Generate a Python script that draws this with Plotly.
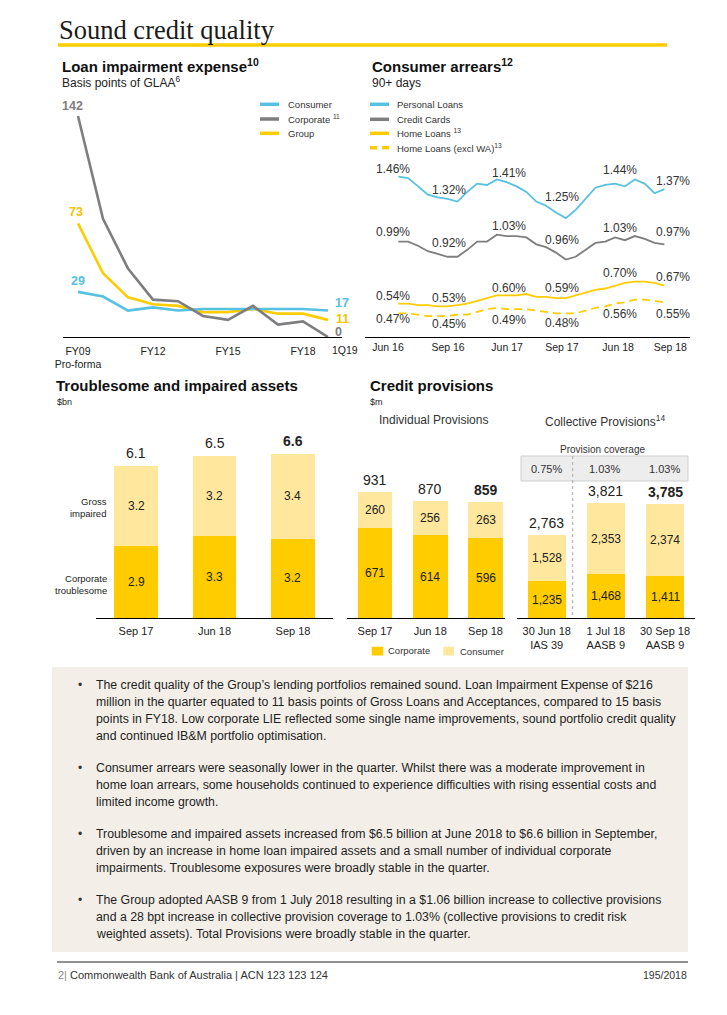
import plotly.graph_objects as go

W, H = 727, 1015
FONT = "Liberation Sans, Arial, sans-serif"
SERIF = "Liberation Serif, DejaVu Serif, serif"
YEL = "#FFCC00"
YEL_L = "#FFE89E"
CYAN = "#57C1E1"
GREY = "#7E7E80"
TXT = "#222222"

# ---------------- data ----------------
lie_periods = ["FY09", "FY10", "FY11", "FY12", "FY13", "FY14", "FY15", "FY16", "FY17", "FY18", "1Q19"]
lie_consumer = [29, 26, 17, 19, 17, 18, 18, 18, 18, 18, 17]
lie_corporate = [142, 76, 44, 24, 23, 13.5, 11, 20, 8, 10, 0]
lie_group = [73, 41, 25.5, 21, 20, 16, 16, 18, 15, 15, 11]
lie_tick_labels = ["FY09<br>Pro-forma", "FY12", "FY15", "FY18"]
lie_last_label = "1Q19"

arr_personal = [1.46, 1.45, 1.39, 1.33, 1.31, 1.30, 1.28, 1.35, 1.41, 1.40, 1.44, 1.42, 1.39, 1.35,
                1.28, 1.25, 1.20, 1.16, 1.22, 1.30, 1.38, 1.40, 1.41, 1.39, 1.44, 1.41, 1.34, 1.37]
arr_cards = [0.99, 0.99, 0.96, 0.92, 0.90, 0.88, 0.88, 0.93, 0.99, 0.99, 1.04, 1.03, 1.03, 1.02,
             0.97, 0.95, 0.91, 0.86, 0.88, 0.93, 0.98, 0.99, 1.02, 1.00, 1.03, 1.01, 0.98, 0.97]
arr_home = [0.54, 0.54, 0.53, 0.53, 0.52, 0.52, 0.53, 0.54, 0.56, 0.58, 0.60, 0.60, 0.60, 0.61,
            0.59, 0.59, 0.58, 0.58, 0.60, 0.62, 0.64, 0.65, 0.67, 0.69, 0.70, 0.70, 0.69, 0.67]
arr_home_xwa = [0.47, 0.47, 0.46, 0.45, 0.45, 0.45, 0.46, 0.46, 0.48, 0.50, 0.51, 0.50, 0.50, 0.50,
                0.49, 0.48, 0.47, 0.47, 0.47, 0.49, 0.51, 0.52, 0.54, 0.55, 0.57, 0.57, 0.56, 0.55]
arr_tick_labels = ["Jun 16", "Sep 16", "Jun 17", "Sep 17", "Jun 18", "Sep 18"]
arr_lbl_personal = ["1.46%", "1.32%", "1.41%", "1.25%", "1.44%", "1.37%"]
arr_lbl_cards = ["0.99%", "0.92%", "1.03%", "0.96%", "1.03%", "0.97%"]
arr_lbl_home = ["0.54%", "0.53%", "0.60%", "0.59%", "0.70%", "0.67%"]
arr_lbl_home_xwa = ["0.47%", "0.45%", "0.49%", "0.48%", "0.56%", "0.55%"]

tia_periods = ["Sep 17", "Jun 18", "Sep 18"]
tia_corp_troublesome = [2.9, 3.3, 3.2]
tia_gross_impaired = [3.2, 3.2, 3.4]

ind_periods = ["Sep 17", "Jun 18", "Sep 18"]
ind_corporate = [671, 614, 596]
ind_consumer = [260, 256, 263]

col_periods = ["30 Jun 18<br>IAS 39", "1 Jul 18<br>AASB 9", "30 Sep 18<br>AASB 9"]
col_corporate = [1235, 1468, 1411]
col_consumer = [1528, 2353, 2374]
col_coverage = ["0.75%", "1.03%", "1.03%"]

bullets = [
    ["The credit quality of the Group\u2019s lending portfolios remained sound. Loan Impairment Expense of $216",
     "million in the quarter equated to 11 basis points of Gross Loans and Acceptances, compared to 15 basis",
     "points in FY18. Low corporate LIE reflected some single name improvements, sound portfolio credit quality",
     "and continued IB&amp;M portfolio optimisation."],
    ["Consumer arrears were seasonally lower in the quarter. Whilst there was a moderate improvement in",
     "home loan arrears, some households continued to experience difficulties with rising essential costs and",
     "limited income growth."],
    ["Troublesome and impaired assets increased from $6.5 billion at June 2018 to $6.6 billion in September,",
     "driven by an increase in home loan impaired assets and a small number of individual corporate",
     "impairments. Troublesome exposures were broadly stable in the quarter."],
    ["The Group adopted AASB 9 from 1 July 2018 resulting in a $1.06 billion increase to collective provisions",
     "and a 28 bpt increase in collective provision coverage to 1.03% (collective provisions to credit risk",
     "weighted assets). Total Provisions were broadly stable in the quarter."],
]

# ---------------- helpers ----------------
def px(x):
    # horizontal page position -> paper fraction (compensates the 8px left inset seen in the capture)
    return (x - 8) / 719


def py(y):
    return 1 - y / H


anns = []
shapes = []


def ann(x, y, text, size, color=TXT, xanchor="center", yanchor="middle", family=FONT, align="center"):
    anns.append(dict(x=px(x), y=py(y), xref="paper", yref="paper", text=text, showarrow=False,
                     xanchor=xanchor, yanchor=yanchor, align=align,
                     font=dict(size=size, color=color, family=family)))


def dann(x, y, xr, yr, text, size, color=TXT, yanchor="middle", yshift=0, bold=False):
    if bold:
        text = "<b>" + text + "</b>"
    anns.append(dict(x=x, y=y, xref=xr, yref=yr, text=text, showarrow=False,
                     xanchor="center", yanchor=yanchor, yshift=yshift,
                     font=dict(size=size, color=color, family=FONT)))


def hline(x0, x1, y, color, width, dash=None):
    ln = dict(color=color, width=width)
    if dash:
        ln["dash"] = dash
    shapes.append(dict(type="line", xref="paper", yref="paper", x0=px(x0), x1=px(x1),
                       y0=py(y), y1=py(y), line=ln))


def rect(x0, y0, x1, y1, fill, line_color=None, layer="below"):
    shapes.append(dict(type="rect", xref="paper", yref="paper", x0=px(x0), x1=px(x1),
                       y0=py(y1), y1=py(y0), fillcolor=fill, layer=layer,
                       line=dict(width=1 if line_color else 0, color=line_color or fill)))


fig = go.Figure()

# ---------------- Loan impairment expense ----------------
x_lie = list(range(len(lie_periods)))
for vals, col in [(lie_group, YEL), (lie_consumer, CYAN), (lie_corporate, GREY)]:
    fig.add_trace(go.Scatter(x=x_lie, y=vals, mode="lines", line=dict(color=col, width=2.6),
                             xaxis="x", yaxis="y", showlegend=False, hoverinfo="skip"))

# ---------------- Consumer arrears ----------------
x_arr = list(range(len(arr_personal)))
for vals, col, dash in [(arr_home_xwa, YEL, "8px,5px"), (arr_home, YEL, None),
                        (arr_cards, GREY, None), (arr_personal, CYAN, None)]:
    ln = dict(color=col, width=1.8)
    if dash:
        ln["dash"] = dash
    fig.add_trace(go.Scatter(x=x_arr, y=vals, mode="lines", line=ln, xaxis="x2", yaxis="y2",
                             showlegend=False, hoverinfo="skip"))

# ---------------- Troublesome and impaired assets ----------------
fig.add_trace(go.Bar(x=tia_periods, y=tia_corp_troublesome, marker=dict(color=YEL, line=dict(width=0)),
                     width=0.557, xaxis="x3", yaxis="y3", showlegend=False, hoverinfo="skip"))
fig.add_trace(go.Bar(x=tia_periods, y=tia_gross_impaired, marker=dict(color=YEL_L, line=dict(width=0)),
                     width=0.557, xaxis="x3", yaxis="y3", showlegend=False, hoverinfo="skip"))

# ---------------- Individual provisions ----------------
fig.add_trace(go.Bar(x=ind_periods, y=ind_corporate, marker=dict(color=YEL, line=dict(width=0)),
                     width=0.628, xaxis="x4", yaxis="y4", showlegend=False, hoverinfo="skip"))
fig.add_trace(go.Bar(x=ind_periods, y=ind_consumer, marker=dict(color=YEL_L, line=dict(width=0)),
                     width=0.628, xaxis="x4", yaxis="y4", showlegend=False, hoverinfo="skip"))

# ---------------- Collective provisions ----------------
fig.add_trace(go.Bar(x=col_periods, y=col_corporate, marker=dict(color=YEL, line=dict(width=0)),
                     width=0.642, xaxis="x5", yaxis="y5", showlegend=False, hoverinfo="skip"))
fig.add_trace(go.Bar(x=col_periods, y=col_consumer, marker=dict(color=YEL_L, line=dict(width=0)),
                     width=0.642, xaxis="x5", yaxis="y5", showlegend=False, hoverinfo="skip"))

# bar labels (computed from data)
for i in range(3):
    a, b = tia_corp_troublesome[i], tia_gross_impaired[i]
    dann(i, a / 2, "x3", "y3", f"{a:.1f}", 12)
    dann(i, a + b / 2, "x3", "y3", f"{b:.1f}", 12)
    dann(i, a + b, "x3", "y3", f"{a + b:.1f}", 14, yanchor="bottom", yshift=3, bold=(i == 2))

    a, b = ind_corporate[i], ind_consumer[i]
    dann(i, a / 2, "x4", "y4", f"{a:,}", 12)
    dann(i, a + b / 2, "x4", "y4", f"{b:,}", 12)
    dann(i, a + b, "x4", "y4", f"{a + b:,}", 14, yanchor="bottom", yshift=2, bold=(i == 2))

    a, b = col_corporate[i], col_consumer[i]
    dann(i, a / 2, "x5", "y5", f"{a:,}", 12)
    dann(i, a + b / 2, "x5", "y5", f"{b:,}", 12)
    dann(i, a + b, "x5", "y5", f"{a + b:,}", 14, yanchor="bottom", yshift=2, bold=(i == 2))

# ---------------- page text & decorations ----------------
ann(57, 30, "Sound credit quality", 26.5, color="#1a1a1a", xanchor="left", family=SERIF)
hline(58, 667, 45, YEL, 3.5)

# LIE headings & legend
ann(60, 65, "<b>Loan impairment expense<sup>10</sup></b>", 15, color="#111", xanchor="left")
ann(60, 82, "Basis points of GLAA<sup>6</sup>", 12, xanchor="left")
for yy, col, t in [(104.3, CYAN, "Consumer"), (119, GREY, "Corporate <sup>11</sup>"), (133.3, YEL, "Group")]:
    hline(260, 279, yy, col, 3.5)
    ann(286, yy, t, 9.5, color="#333", xanchor="left")
ann(72, 106, f"<b>{lie_corporate[0]:.0f}</b>", 12.5, color=GREY)
ann(76, 212, f"<b>{lie_group[0]:.0f}</b>", 12.5, color="#F5C300")
ann(78, 281, f"<b>{lie_consumer[0]:.0f}</b>", 12.5, color=CYAN)
ann(342, 303, f"<b>{lie_consumer[-1]:.0f}</b>", 12.5, color=CYAN)
ann(342, 319, f"<b>{lie_group[-1]:.0f}</b>", 12.5, color="#F5C300")
ann(338, 332, f"<b>{lie_corporate[-1]:.0f}</b>", 12.5, color=GREY)
ann(345, 350, lie_last_label, 10.5)

# Arrears headings & legend
ann(370, 65, "<b>Consumer arrears<sup>12</sup></b>", 15, color="#111", xanchor="left")
ann(370, 82.7, "90+ days", 12, xanchor="left")
leg = [(104.3, CYAN, "Personal Loans", None), (119.3, GREY, "Credit Cards", None),
       (133.3, YEL, "Home Loans <sup>13</sup>", None), (147.7, YEL, "Home Loans (excl WA)<sup>13</sup>", "d")]
for yy, col, t, d in leg:
    if d:
        hline(370, 377, yy, col, 3.5)
        hline(382, 389, yy, col, 3.5)
    else:
        hline(370, 389, yy, col, 3.5)
    ann(395, yy, t, 9.5, color="#333", xanchor="left")

lbl_x = [393, 449, 509, 562, 620, 673]
lbl_y = {
    "p": [169, 190, 173, 197, 170, 181],
    "c": [232, 243, 226, 240, 228, 232],
    "h": [296, 298, 288, 288, 273, 277],
    "x": [319, 324, 320, 323, 314, 314],
}
for key, labels in [("p", arr_lbl_personal), ("c", arr_lbl_cards), ("h", arr_lbl_home), ("x", arr_lbl_home_xwa)]:
    for xx, yy, t in zip(lbl_x, lbl_y[key], labels):
        ann(xx, yy, t, 12, color="#333")

# Troublesome headings
ann(54, 385, "<b>Troublesome and impaired assets</b>", 15, color="#111", xanchor="left")
ann(55, 402, "$bn", 9, xanchor="left")
ann(109, 507, "Gross<br>impaired", 9.5, xanchor="right", align="right")
ann(109, 584, "Corporate<br>troublesome", 9.5, xanchor="right", align="right")

# Credit provisions headings
ann(368, 386, "<b>Credit provisions</b>", 15, color="#111", xanchor="left")
ann(368, 402, "$m", 9, xanchor="left")
ann(433, 419.5, "Individual Provisions", 12, color="#333")
ann(605, 421.5, "Collective Provisions<sup>14</sup>", 12, color="#333")
ann(602, 449, "Provision coverage", 10, color="#333")
rect(521, 456, 688, 481, "#EDEDED", line_color="#CFCFCF")
shapes.append(dict(type="line", xref="paper", yref="paper", x0=px(572.7), x1=px(572.7),
                   y0=py(456), y1=py(618), line=dict(color="#A8A8A8", width=1, dash="dot"), layer="below"))
for xx, t in zip([546.7, 604, 664], col_coverage):
    ann(xx, 469, t, 11, color="#333")
rect(371.7, 646.7, 383.3, 655.5, YEL)
ann(386, 650.5, "Corporate", 9.5, color="#333", xanchor="left")
rect(443.3, 646.7, 454, 655.5, YEL_L)
ann(458, 651.5, "Consumer", 9.5, color="#333", xanchor="left")

# Commentary box
rect(52, 667, 688, 952, "#F3EFE8")
line_ys = [[685, 702, 719, 736], [768, 785, 802], [834, 851, 868], [900, 917, 934]]
for blines, ys in zip(bullets, line_ys):
    ann(80, ys[0], "\u2022", 12, color="#333")
    for t, yy in zip(blines, ys):
        ann(94, yy, t, 12.3, color="#1e1e1e", xanchor="left")

# footer
hline(57, 688, 962, "#222", 1)
ann(56, 975, "<span style='color:#888'>2|</span> Commonwealth Bank of Australia | ACN 123 123 124", 11,
    color="#333", xanchor="left")
ann(689, 975, "195/2018", 10.5, color="#333", xanchor="right")

# ---------------- axes ----------------
def xax(d0, d1, rng, anchor, **kw):
    base = dict(domain=[px(d0), px(d1)], range=rng, anchor=anchor, showgrid=False, zeroline=False,
                showline=True, linecolor="#000", linewidth=1, ticks="", fixedrange=True,
                tickfont=dict(family=FONT, size=11, color=TXT), ticklabelstandoff=2)
    base.update(kw)
    return base


def yax(top, bottom, rng, anchor):
    return dict(domain=[py(bottom), py(top)], range=rng, anchor=anchor, visible=False,
                showgrid=False, zeroline=False, fixedrange=True)


fig.update_layout(
    width=W, height=H, autosize=False,
    margin=dict(l=0, r=0, t=0, b=0),
    paper_bgcolor="white", plot_bgcolor="rgba(0,0,0,0)",
    barmode="stack", showlegend=False,
    font=dict(family=FONT, color=TXT),
    xaxis=xax(63, 342, [-0.6, 10.56], "y", tickmode="array",
              tickvals=[0, 3, 6, 9], ticktext=lie_tick_labels, ticklabelstandoff=4,
              tickfont=dict(family=FONT, size=10.5, color=TXT)),
    yaxis=yax(100, 337, [0, 152.3], "x"),
    xaxis2=xax(365, 690, [-3.38, 29.6], "y2", tickmode="array",
               tickvals=[-1.05, 5.05, 11.04, 16.6, 22.3, 27.6], ticktext=arr_tick_labels,
               ticklabelstandoff=0,
               tickfont=dict(family=FONT, size=10.5, color=TXT)),
    yaxis2=yax(160, 337, [0.2986, 1.581], "x2"),
    xaxis3=xax(96, 332.7, [-0.51, 2.506], "y3"),
    yaxis3=yax(439, 618.3, [0, 7.2], "x3"),
    xaxis4=xax(347, 505, [-0.507, 2.353], "y4"),
    yaxis4=yax(440, 618.3, [0, 1318.8], "x4"),
    xaxis5=xax(517.3, 695, [-0.497, 2.507], "y5"),
    yaxis5=yax(440, 618.3, [0, 5923.6], "x5"),
    annotations=anns,
    shapes=shapes,
)

post = (
    "var d=document.documentElement,b=document.body;"
    "d.style.margin='0';d.style.padding='0';d.style.overflow='hidden';"
    "b.style.margin='0';b.style.padding='0';b.style.overflow='hidden';"
    "window.scrollTo(0,0);"
)
fig.write_html("out.html", config={"displayModeBar": False}, post_script=post)
